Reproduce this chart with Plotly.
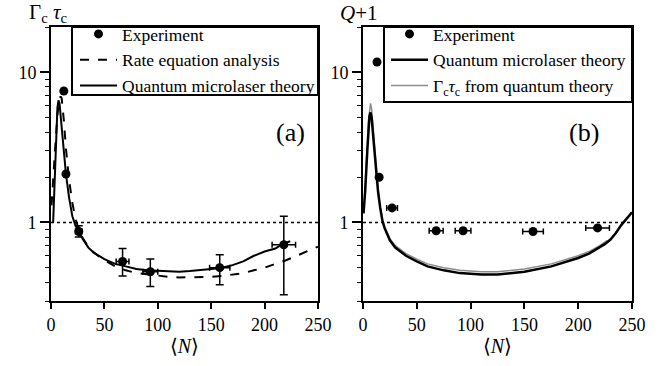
import plotly.graph_objects as go
import math

# ---------- data ----------
# Panel (a): Gamma_c tau_c vs <N>
a_exp_x = [12, 14, 26, 67, 93, 158, 218]
a_exp_y = [7.5, 2.1, 0.87, 0.55, 0.47, 0.50, 0.71]
a_exp_yerr_plus = [0, 0, 0.08, 0.12, 0.10, 0.11, 0.39]
a_exp_yerr_minus = [0, 0, 0.07, 0.11, 0.095, 0.115, 0.38]
a_exp_xerr = [0, 0, 3, 6, 7, 9.5, 11]

a_rate_x = [0.5, 2, 4, 6, 8, 9, 10, 12, 14, 17, 20, 23, 26, 30, 35, 40, 50, 60, 70, 80,
            90, 100, 110, 120, 130, 140, 150, 160, 170, 180, 190, 200, 210, 220, 230, 240, 250]
a_rate_y = [1.3, 1.8, 3.2, 5.2, 6.7, 6.9, 6.7, 4.8, 3.1, 1.9, 1.35, 1.05, 0.9, 0.78, 0.69, 0.63,
            0.56, 0.51, 0.48, 0.46, 0.45, 0.44, 0.435, 0.43, 0.43, 0.43, 0.435, 0.44, 0.45, 0.46,
            0.48, 0.5, 0.53, 0.56, 0.6, 0.64, 0.69]

a_qt_x = [2, 3, 4, 5, 6, 7, 8, 10, 12, 14, 17, 20, 23, 26, 30, 35, 40, 50, 60, 70, 80, 90,
          100, 110, 120, 130, 140, 150, 160, 170, 180, 190, 200, 210, 217, 224]
a_qt_y = [1.0, 1.6, 2.8, 4.3, 5.8, 6.5, 6.2, 4.3, 2.9, 2.1, 1.45, 1.1, 0.95, 0.86, 0.77, 0.68,
          0.63, 0.57, 0.53, 0.51, 0.49, 0.48, 0.475, 0.47, 0.47, 0.475, 0.48, 0.49, 0.5, 0.52,
          0.55, 0.6, 0.64, 0.67, 0.72, 0.75]

# Panel (b): Q+1 vs <N>
b_exp_x = [13, 15, 27, 68, 93, 158, 218]
b_exp_y = [11.7, 2.0, 1.25, 0.88, 0.88, 0.87, 0.92]
b_exp_xerr = [0, 0, 5, 6.5, 7.3, 9.6, 11]

b_qt_x = [0.5, 2, 4, 5, 6, 7, 8, 10, 12, 14, 16, 18, 20, 25, 30, 40, 50, 60, 75, 90, 100,
          110, 125, 140, 150, 175, 200, 210, 220, 225, 230, 235, 240, 245, 250]
b_qt_y = [1.15, 1.6, 3.0, 4.2, 5.1, 5.4, 5.0, 3.4, 2.2, 1.6, 1.25, 1.03, 0.92, 0.76, 0.68,
          0.6, 0.55, 0.51, 0.48, 0.46, 0.455, 0.45, 0.45, 0.46, 0.47, 0.51, 0.58, 0.62, 0.68,
          0.72, 0.77, 0.85, 0.96, 1.06, 1.17]

b_gt_x = [0.5, 2, 4, 5, 6, 7, 8, 10, 12, 14, 16, 18, 20, 25, 30, 40, 50, 60, 75, 90, 100,
          110, 125, 140, 150, 175, 200, 210, 220, 227]
b_gt_y = [1.15, 1.7, 3.3, 4.7, 5.8, 6.2, 5.7, 3.7, 2.3, 1.65, 1.28, 1.05, 0.94, 0.78, 0.7,
          0.62, 0.57, 0.53, 0.5, 0.48, 0.475, 0.47, 0.47, 0.48, 0.49, 0.53, 0.6, 0.64, 0.7, 0.76]

x_ticks = [0, 50, 100, 150, 200, 250]
y_ticks = [1, 10]
y_ticktext = ["1", "10"]
y_minor_ticks = [0.3, 0.4, 0.5, 0.6, 0.7, 0.8, 0.9, 2, 3, 4, 5, 6, 7, 8, 9, 20]
ref_level = 1

# ---------- figure ----------
W, H = 667, 366
FONT = "Liberation Serif"
fig = go.Figure()

# panel (a)
fig.add_trace(go.Scatter(x=a_rate_x, y=a_rate_y, mode="lines", name="Rate equation analysis",
                         line=dict(color="black", width=2, dash="dash"),
                         xaxis="x", yaxis="y", legend="legend", legendrank=2))
fig.add_trace(go.Scatter(x=a_qt_x, y=a_qt_y, mode="lines", name="Quantum microlaser theory",
                         line=dict(color="black", width=2),
                         xaxis="x", yaxis="y", legend="legend", legendrank=3))
fig.add_trace(go.Scatter(x=a_exp_x, y=a_exp_y, mode="markers", name="Experiment",
                         marker=dict(color="black", size=9),
                         error_y=dict(type="data", array=a_exp_yerr_plus, arrayminus=a_exp_yerr_minus,
                                      color="black", thickness=1.5, width=4),
                         error_x=dict(type="data", array=a_exp_xerr, color="black",
                                      thickness=1.5, width=3),
                         xaxis="x", yaxis="y", legend="legend", legendrank=1))

# panel (b)
fig.add_trace(go.Scatter(x=b_gt_x, y=b_gt_y, mode="lines", name="Γ<sub>c</sub><i>τ</i><sub>c</sub> from quantum theory",
                         line=dict(color="#8c8c8c", width=1.5),
                         xaxis="x2", yaxis="y2", legend="legend2", legendrank=3))
fig.add_trace(go.Scatter(x=b_qt_x, y=b_qt_y, mode="lines", name="Quantum microlaser theory",
                         line=dict(color="black", width=2.5),
                         xaxis="x2", yaxis="y2", legend="legend2", legendrank=2))
fig.add_trace(go.Scatter(x=b_exp_x, y=b_exp_y, mode="markers", name="Experiment",
                         marker=dict(color="black", size=9),
                         error_x=dict(type="data", array=b_exp_xerr, color="black",
                                      thickness=1.5, width=3),
                         xaxis="x2", yaxis="y2", legend="legend2", legendrank=1))

# dotted reference lines at y = 1
for xr, yr in (("x", "y"), ("x2", "y2")):
    fig.add_shape(type="line", xref=f"{xr} domain", yref=yr, x0=0, x1=1,
                  y0=ref_level, y1=ref_level, line=dict(color="black", width=1.5, dash="dot"))

xa = dict(range=[0, 250], tickmode="array", tickvals=x_ticks, ticks="outside", ticklen=6,
          tickwidth=1.5, tickcolor="black", showline=True, linecolor="black", linewidth=2,
          mirror=True, showgrid=False, zeroline=False, automargin=False,
          tickfont=dict(family=FONT, size=18, color="black"),
          title=dict(text="⟨<i>N</i>⟩", font=dict(family=FONT, size=20, color="black"), standoff=2))
ya = dict(type="log", range=[math.log10(0.3), math.log10(20)], tickmode="array",
          tickvals=y_ticks, ticktext=y_ticktext, ticks="outside", ticklen=9, tickwidth=1.5,
          tickcolor="black", showline=True, linecolor="black", linewidth=2, mirror=True,
          showgrid=False, zeroline=False, automargin=False,
          tickfont=dict(family=FONT, size=18, color="black"),
          minor=dict(tickmode="array", tickvals=y_minor_ticks, ticks="outside", ticklen=4,
                     tickwidth=1.2, tickcolor="black", showgrid=False))

L1, R1 = 51 / W, 318 / W
L2, R2 = 363 / W, 632 / W
T, B = 27, 65
PH = H - T - B


def py(pix):
    return (H - B - pix) / PH


def px(pix):
    return pix / W


leg_common = dict(xanchor="left", yanchor="top", borderwidth=0, bgcolor="rgba(0,0,0,0)",
                  font=dict(family=FONT, size=17.5, color="black"), tracegroupgap=0,
                  itemwidth=37)

fig.update_layout(
    width=W, height=H, plot_bgcolor="white", paper_bgcolor="white",
    margin=dict(l=0, r=0, t=T, b=B, autoexpand=False),
    font=dict(family=FONT, color="black"),
    xaxis=dict(xa, domain=[L1, R1], anchor="y"),
    yaxis=dict(ya, domain=[0, 1], anchor="x"),
    xaxis2=dict(xa, domain=[L2, R2], anchor="y2"),
    yaxis2=dict(ya, domain=[0, 1], anchor="x2"),
    legend=dict(leg_common, x=px(75), y=py(16)),
    legend2=dict(leg_common, x=px(386), y=py(16)),
    showlegend=True,
    shapes=list(fig.layout.shapes) + [
        dict(type="rect", xref="paper", yref="paper", x0=px(72), x1=px(318), y0=py(95), y1=py(27),
             line=dict(color="black", width=2)),
        dict(type="rect", xref="paper", yref="paper", x0=px(384), x1=px(632), y0=py(102), y1=py(27),
             line=dict(color="black", width=2)),
    ],
    annotations=[
        dict(text="Γ<sub>c</sub>\u00a0<i>τ</i><sub>c</sub>", x=px(48), y=py(13), xref="paper", yref="paper",
             xanchor="center", yanchor="middle", showarrow=False,
             font=dict(family=FONT, size=21, color="black")),
        dict(text="<i>Q</i>+1", x=px(359), y=py(13), xref="paper", yref="paper",
             xanchor="center", yanchor="middle", showarrow=False,
             font=dict(family=FONT, size=21, color="black")),
        dict(text="(a)", x=px(290), y=py(132), xref="paper", yref="paper",
             showarrow=False, font=dict(family=FONT, size=26, color="black")),
        dict(text="(b)", x=px(601), y=py(132), xref="paper", yref="paper",
             showarrow=False, font=dict(family=FONT, size=26, color="black")),
    ],
)

fig.write_html("out.html", config={"displayModeBar": False},
               post_script="document.body.style.margin='0';document.body.style.overflow='hidden';")
